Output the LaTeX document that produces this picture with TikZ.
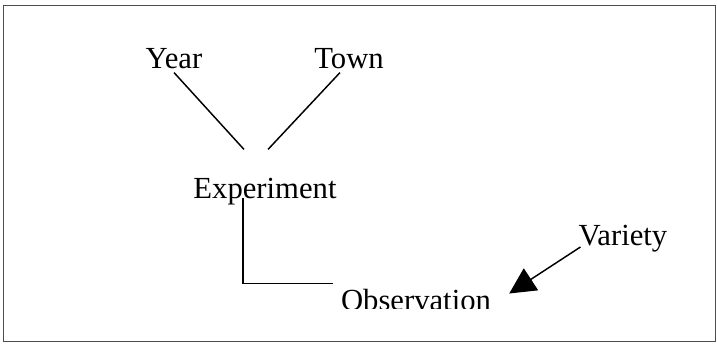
\documentclass[tikz,border=0pt]{standalone}
\usepackage{fontspec}
\setmainfont{Liberation Serif}
\usetikzlibrary{arrows.meta}
\begin{document}
\begin{tikzpicture}[
      x=0.75pt, y=-0.75pt,
      font=\fontsize{23}{26}\selectfont,
      term/.style={anchor=base, inner sep=3pt},
      link/.style={draw=black, line width=1.1pt},
      pointer/.style={draw=black, line width=1.1pt,
                      -{Triangle[length=19.5pt, width=19.5pt]}}
    ]
    \useasboundingbox (0,0) rectangle (717,343);
    % Outer frame.
    \draw[draw=black!70, line width=1.2pt] (3.5,5.5) rectangle (715.5,341.5);

    % Factors above the experiment.
    \node[term] (year) at (174,68) {Year};
    \node[term] (town) at (349,68) {Town};
    \node[term] (experiment) at (265,198) {Experiment};
    \draw[link] (year.south) -- ([shift={(-21,-24)}]experiment.north);
    \draw[link] ([xshift=-6.75pt]town.south) -- ([shift={(3,-24)}]experiment.north);

    % Observation, cut off at its foot.
    \begin{scope}
      \clip (0,0) rectangle (717,308);
      \node[term] (observation) at (416,310) {Observation};
    \end{scope}
    \node[term] (variety) at (623,245) {Variety};
    \draw[link] ([xshift=-16.5pt]experiment.base) |- ([shift={(-4,-1)}]observation.north west);
    \draw[pointer] ([shift={(6,2)}]variety.base west) -- ([shift={(14,-6)}]observation.east);
  \end{tikzpicture}
\end{document}
